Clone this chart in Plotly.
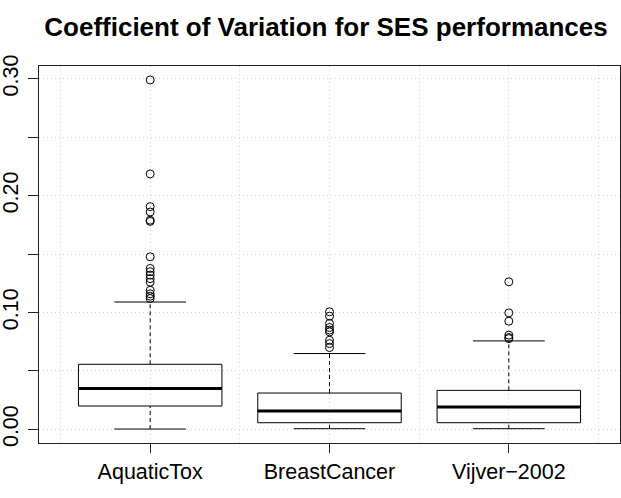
import plotly.graph_objects as go

categories = ["AquaticTox", "BreastCancer", "Vijver\u22122002"]
q1 = [0.0200, 0.0057, 0.0057]
median = [0.0349, 0.0157, 0.0191]
q3 = [0.0557, 0.0311, 0.0334]
lower_whisker = [0.0003, 0.0006, 0.0006]
upper_whisker = [0.1090, 0.0649, 0.0757]
outliers_aquatic = [0.299, 0.2186, 0.1906, 0.186, 0.179, 0.178, 0.1477, 0.1377,
                    0.1349, 0.132, 0.129, 0.126, 0.119, 0.116, 0.114, 0.112]
outliers_breast = [0.1006, 0.0969, 0.0906, 0.0872, 0.0850, 0.0834, 0.0763, 0.0734, 0.0700]
outliers_vijver = [0.1263, 0.0997, 0.0926, 0.0806, 0.0786, 0.0777]
outliers = [outliers_aquatic, outliers_breast, outliers_vijver]

y_tick_vals = [0.00, 0.05, 0.10, 0.15, 0.20, 0.25, 0.30]
y_tick_text = ["0.00", "", "0.10", "", "0.20", "", "0.30"]

BOXWEX = 0.8
STAPLE = 0.4
FONT = "Liberation Sans, Arial, sans-serif"

fig = go.Figure()
for i, cat in enumerate(categories):
    x = i + 1
    h = BOXWEX / 2
    s = STAPLE / 2
    # dashed whiskers
    fig.add_trace(go.Scatter(
        x=[x, x, None, x, x],
        y=[q3[i], upper_whisker[i], None, lower_whisker[i], q1[i]],
        mode="lines", line=dict(color="black", width=1, dash="4px,3px"),
        hoverinfo="skip", showlegend=False))
    # staples
    fig.add_trace(go.Scatter(
        x=[x - s, x + s, None, x - s, x + s],
        y=[upper_whisker[i], upper_whisker[i], None, lower_whisker[i], lower_whisker[i]],
        mode="lines", line=dict(color="black", width=1),
        hoverinfo="skip", showlegend=False))
    # box
    fig.add_trace(go.Scatter(
        x=[x - h, x + h, x + h, x - h, x - h],
        y=[q1[i], q1[i], q3[i], q3[i], q1[i]],
        mode="lines", line=dict(color="black", width=1),
        hoverinfo="skip", showlegend=False))
    # median
    fig.add_trace(go.Scatter(
        x=[x - h, x + h], y=[median[i], median[i]],
        mode="lines", line=dict(color="black", width=3),
        hoverinfo="skip", showlegend=False))
    # outliers
    fig.add_trace(go.Scatter(
        x=[x] * len(outliers[i]), y=outliers[i], mode="markers",
        marker=dict(symbol="circle-open", size=8, color="black", line=dict(width=1)),
        showlegend=False))

all_vals = lower_whisker + [v for o in outliers for v in o]
ymin, ymax = min(all_vals), max(all_vals)
pad = (ymax - ymin) * 0.04
n = len(categories)
xpad = n * 0.04

grid = dict(showgrid=True, gridcolor="#d3d3d3", griddash="1px,3px", gridwidth=1)

fig.update_layout(
    width=621, height=498,
    margin=dict(l=39, r=1, t=66, b=55),
    paper_bgcolor="white", plot_bgcolor="white",
    title=dict(text="<b>Coefficient of Variation for SES performances</b>",
               font=dict(family=FONT, size=26, color="black"),
               x=0.494, xref="paper", xanchor="center",
               y=1 - 27 / 498, yref="container", yanchor="middle"),
    xaxis=dict(range=[0.5 - xpad, n + 0.5 + xpad], tickvals=[1, 2, 3], ticktext=categories,
               showline=True, mirror=True, linecolor="#222222", linewidth=1,
               ticks="outside", ticklen=9, tickcolor="#222222", tickwidth=1,
               tickfont=dict(family=FONT, size=21.5, color="black"),
               zeroline=False, automargin=False,
               minor=dict(tickvals=[0.5, 1.5, 2.5, 3.5], ticks="", **grid),
               **grid),
    yaxis=dict(range=[ymin - pad, ymax + pad], tickvals=y_tick_vals, ticktext=y_tick_text,
               tickangle=-90, ticklabelstandoff=1, automargin=False,
               showline=True, mirror=True, linecolor="#222222", linewidth=1,
               ticks="outside", ticklen=10, tickcolor="#222222", tickwidth=1,
               tickfont=dict(family=FONT, size=21.5, color="black"),
               zeroline=False, **grid),
)

fig.write_html("out.html")
